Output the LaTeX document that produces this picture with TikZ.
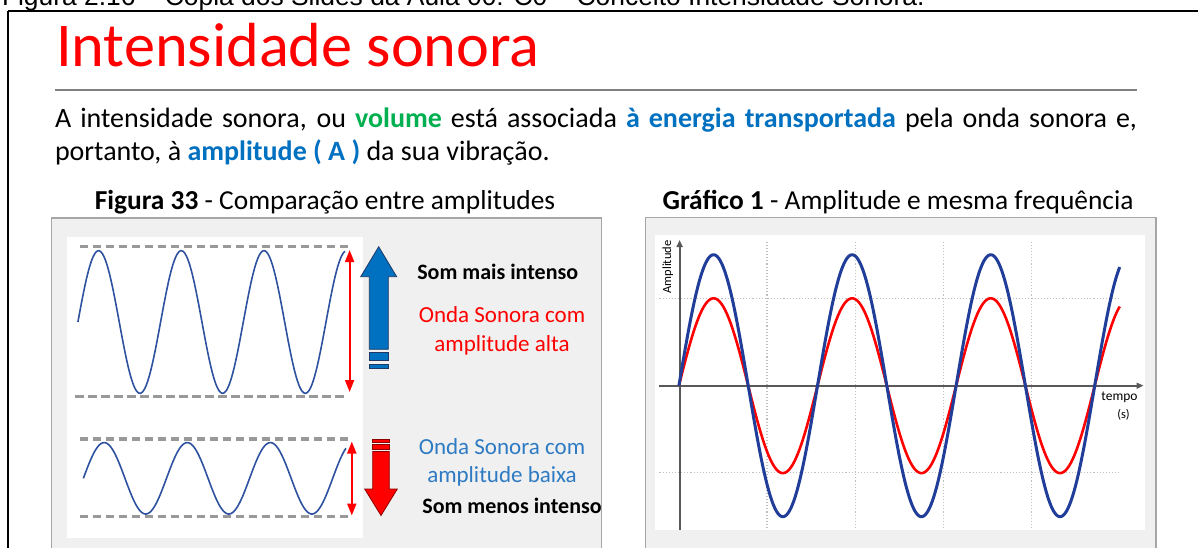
\documentclass[tikz,border=0pt]{standalone}
\usepackage{fontspec}
\setmainfont{Carlito}
\newfontfamily\capfont{Liberation Sans}
\usetikzlibrary{arrows.meta}
\definecolor{titlered}{HTML}{FF0000}
\definecolor{vgreen}{HTML}{00B050}
\definecolor{eblue}{HTML}{0070C0}
\definecolor{lblue}{HTML}{2E7BC4}
\definecolor{panelfill}{HTML}{F0F0F0}
\definecolor{panelline}{HTML}{A6A6A6}
\definecolor{dashgray}{HTML}{999999}
\definecolor{wavecol}{HTML}{2F52A0}
\definecolor{chartblue}{HTML}{1F3D99}
\definecolor{axiscol}{HTML}{595959}
\definecolor{gridcol}{HTML}{BFBFBF}
\definecolor{arrowblue}{HTML}{0070C0}
\definecolor{arrowblueline}{HTML}{1F3864}
\definecolor{arrowredline}{HTML}{8B0000}
\begin{document}
\begin{tikzpicture}[x=1pt,y=-1pt,
  txt/.style={inner sep=0pt, outer sep=0pt},
  panel/.style={fill=panelfill, draw=panelline, line width=1.5pt},
  whitebox/.style={fill=white, draw=none},
  gdash/.style={draw=dashgray, line width=3.5pt, dash pattern=on 8.5pt off 4.5pt},
  ampl/.style={draw=titlered, line width=2pt, {Triangle[width=9pt,length=12pt]}-{Triangle[width=9pt,length=12pt]}},
  swave/.style={draw=wavecol, line width=1.6pt, line join=round},
  gridln/.style={draw=gridcol, line width=1.1pt, dotted},
  axisln/.style={draw=axiscol, line width=2pt, -{Triangle[width=6pt,length=7pt]}},
  fs/.style={font=\fontsize{#1}{#1}\selectfont}
]
\useasboundingbox (0,0) rectangle (1198,547);
\clip (0,0) rectangle (1198,547);
\fill[white] (0,0) rectangle (1198,547);

% cut-off caption at the very top
\node[txt, anchor=base west, font=\capfont\fontsize{26.4}{30}\selectfont] (topcap) at (2,5.5)
  {Figura 2.16 – Cópia dos Slides da Aula 00: C0 – Conceito Intensidade Sonora.};

% frame
\coordinate (ftl) at (8,11);
\coordinate (ftr) at (1199,11);
\coordinate (fbl) at (8,548);
\draw[black, line width=2.2pt] (ftr) -- (ftl);
\draw[black, line width=1.5pt] (ftl) -- (fbl);

% title
\node[txt, anchor=base west, text=titlered, fs=62.3] (title) at (56,66.5) {Intensidade sonora};
\coordinate (rulel) at (55,90);
\coordinate (ruler) at (1137,90);
\draw[draw=gray, line width=1.5pt] (rulel) -- (ruler);

% paragraph
\node[txt, anchor=base west, fs=28] (para1) at (55,127.5)
  {\makebox[1082pt][s]{A intensidade sonora, ou \textbf{\color{vgreen}volume} está associada \textbf{\color{eblue}à energia transportada} pela onda sonora e,}};
\node[txt, anchor=base west, fs=28] (para2) at (55,160)
  {portanto, à \textbf{\color{eblue}amplitude ( A )} da sua vibração.};

% captions
\node[txt, anchor=base, fs=27.4] (cap1) at (325,209.5) {\textbf{Figura 33} - Comparação entre amplitudes};
\node[txt, anchor=base, fs=27.4] (cap2) at (898,209.5) {\textbf{Gráfico 1} - Amplitude e mesma frequência};

% ---------------- left panel ----------------
\path[panel] (51.5,218) rectangle (601.5,560);
\path[whitebox] (67,237) rectangle (362.5,538);

\coordinate (d1a) at (79.7,246.7); \coordinate (d1b) at (351.8,246.7);
\coordinate (d2a) at (75,396.7);   \coordinate (d2b) at (347,396.7);
\coordinate (d3a) at (79.7,439);   \coordinate (d3b) at (351.8,439);
\coordinate (d4a) at (79.7,516.7); \coordinate (d4b) at (351,516.7);
\draw[gdash] (d1a) -- (d1b);
\draw[gdash] (d2a) -- (d2b);
\draw[gdash] (d3a) -- (d3b);
\draw[gdash] (d4a) -- (d4b);

\draw[swave] plot[domain=77.9:345, samples=220] (\x,{322-71.3*sin((\x-77.9)/82.7*360)});
\draw[swave] plot[domain=83.4:345.9, samples=220] (\x,{478.3-35.7*sin((\x-83.4)/83.1*360)});

\coordinate (a1t) at (349.6,250); \coordinate (a1b) at (349.6,392);
\coordinate (a2t) at (351.8,441.5); \coordinate (a2b) at (351.8,515.5);
\draw[ampl] (a1t) -- (a1b);
\draw[ampl] (a2t) -- (a2b);

% blue up arrow
\draw[fill=arrowblue, draw=arrowblueline, line width=0.8pt, line join=miter]
  (369.3,349.3) -- (369.3,276.7) -- (360.7,276.7) -- (378.7,246.7) -- (396.7,276.7)
  -- (388.3,276.7) -- (388.3,349.3) -- cycle;
\draw[fill=arrowblue, draw=arrowblueline, line width=0.8pt] (369.3,352.7) rectangle (388.3,360.7);
\draw[fill=arrowblue, draw=arrowblueline, line width=0.8pt] (369.3,364) rectangle (388.3,368.7);

% red down arrow
\draw[fill=titlered, draw=arrowredline, line width=0.8pt, line join=miter]
  (372.7,451.5) -- (389.3,451.5) -- (389.3,489) -- (397.3,489) -- (381,515.5)
  -- (364.7,489) -- (372.7,489) -- cycle;
\draw[fill=titlered, draw=arrowredline, line width=0.8pt] (372.7,439.5) rectangle (389.3,442.5);
\draw[fill=titlered, draw=arrowredline, line width=0.8pt] (372.7,444.5) rectangle (389.3,449.5);

% left labels
\node[txt, fs=22] (mais) at (497.7,271.7) {\textbf{Som mais intenso}};
\node[txt, align=center, text=titlered, font=\fontsize{23}{28.3}\selectfont] (alta) at (502,330.8)
  {Onda Sonora com\\amplitude alta};
\node[txt, align=center, text=lblue, font=\fontsize{23}{28.3}\selectfont] (baixa) at (502,462.5)
  {Onda Sonora com\\amplitude baixa};
\node[txt, fs=22] (menos) at (512,506) {\textbf{Som menos intenso}};

% ---------------- right panel ----------------
\path[panel] (645.5,217.5) rectangle (1156,560);
\path[whitebox] (655,235) rectangle (1144.5,530);

\foreach \gx/\gn in {767/g1,855.4/g2,943.6/g3,1031.8/g4}{
  \coordinate (\gn t) at (\gx,241.7);
  \coordinate (\gn b) at (\gx,530);
  \draw[gridln] (\gn t) -- (\gn b);
}
\coordinate (h1a) at (659.4,298.3); \coordinate (h1b) at (1119,298.3);
\coordinate (h2a) at (659.4,472.7); \coordinate (h2b) at (1119,472.7);
\draw[gridln] (h1a) -- (h1b);
\draw[gridln] (h2a) -- (h2b);

\coordinate (yaxb) at (679.6,530); \coordinate (yaxt) at (679.6,240);
\coordinate (xaxl) at (659.4,385.7); \coordinate (xaxr) at (1143.5,385.7);
\draw[axisln] (yaxb) -- (yaxt);
\draw[axisln] (xaxl) -- (xaxr);

\draw[draw=titlered, line width=2.6pt, line join=round]
  plot[domain=678.9:1119.7, samples=300] (\x,{385.7-87.4*sin((\x-678.9)/138.6*360)});
\draw[draw=chartblue, line width=3pt, line join=round]
  plot[domain=678.9:1119.7, samples=300] (\x,{385.7-131*sin((\x-678.9)/138.6*360)});

\node[txt, rotate=90, fs=12.5] (ylab) at (667.9,267) {Amplitude};
\node[txt, fs=13.5] (tempo) at (1119.5,397.3) {tempo};
\node[txt, fs=12.5] (segs) at (1123.5,415) {(s)};
\end{tikzpicture}
\end{document}
